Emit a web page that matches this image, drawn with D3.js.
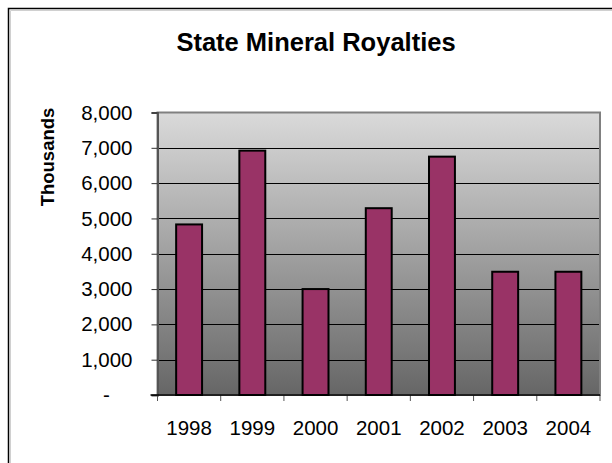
<!DOCTYPE html>
<html><head><meta charset="utf-8">
<script src="https://cdn.jsdelivr.net/npm/d3@7"></script>
<style>body{margin:0;background:#fff;overflow:hidden}svg{display:block;font-family:"Liberation Sans",Arial,sans-serif}</style>
</head><body>
<svg id="c" width="612" height="463"></svg>
<script>
const years = ["1998","1999","2000","2001","2002","2003","2004"];
const royalties = [4830, 6920, 3000, 5290, 6750, 3490, 3490];
const yTicks = [0,1000,2000,3000,4000,5000,6000,7000,8000];
const title = "State Mineral Royalties";
const yTitle = "Thousands";

const svg = d3.select("#c");
const m = {l:157.5, r:600, t:112.5, b:395};
// outer border (only left and top visible in frame)
svg.append("path").attr("d","M8.5,463V8.5H612").attr("fill","none").attr("stroke","#000").attr("stroke-width",1.5);
svg.append("path").attr("d","M10.5,463V10.5H612").attr("fill","none").attr("stroke","#d0d0d0").attr("stroke-width",1);

const x = d3.scaleBand().domain(years).range([m.l, m.r]).paddingInner(0.59).paddingOuter(0.295);
const y = d3.scaleLinear().domain([0,8000]).range([m.b, m.t]);

const defs = svg.append("defs");
const g = defs.append("linearGradient").attr("id","bg").attr("x1",0).attr("y1",0).attr("x2",0).attr("y2",1);
g.append("stop").attr("offset","0%").attr("stop-color","#dadada");
g.append("stop").attr("offset","100%").attr("stop-color","#666666");

svg.append("rect").attr("x",m.l).attr("y",m.t).attr("width",m.r-m.l).attr("height",m.b-m.t)
  .attr("fill","url(#bg)");

// gridlines
svg.append("g").selectAll("line").data(yTicks.filter(d=>d>0 && d<8000)).join("line")
  .attr("x1",m.l).attr("x2",m.r).attr("y1",d=>Math.round(y(d))+0.5).attr("y2",d=>Math.round(y(d))+0.5)
  .attr("stroke","#000").attr("stroke-width",1);

// plot border
svg.append("rect").attr("x",m.l).attr("y",m.t).attr("width",m.r-m.l).attr("height",m.b-m.t)
  .attr("fill","none").attr("stroke","#808080").attr("stroke-width",2);

// bars
svg.append("g").selectAll("rect").data(royalties).join("rect")
  .attr("x",(d,i)=>x(years[i])).attr("width",x.bandwidth())
  .attr("y",d=>y(d)).attr("height",d=>m.b-y(d))
  .attr("fill","#993366").attr("stroke","#000").attr("stroke-width",2);

// y axis
const fmt = d3.format(",");
const ya = svg.append("g").attr("transform",`translate(${m.l},0)`)
  .call(d3.axisLeft(y).tickValues(yTicks).tickSize(6).tickPadding(19).tickFormat(d=>d===0?"-":fmt(d)));
ya.select(".domain").attr("stroke","#555").attr("stroke-width",2);
ya.selectAll(".tick line").attr("stroke","#333");
ya.selectAll(".tick text").attr("font-size",20.5).attr("fill","#000").attr("font-family","Liberation Sans, Arial, sans-serif");
ya.selectAll(".tick text").filter(d=>d===0).attr("text-anchor","middle").attr("x",-51);

// x axis
const xa = svg.append("g").attr("transform",`translate(0,${m.b})`)
  .call(d3.axisBottom(x).tickSize(0).tickPadding(25));
xa.select(".domain").remove();
xa.selectAll(".tick text").attr("font-size",20.5).attr("fill","#000").attr("font-family","Liberation Sans, Arial, sans-serif");
// x ticks at category boundaries
const bounds = years.map(v=>x(v)-x.step()*x.paddingInner()/2).concat([m.r]);
bounds[0] = m.l;
svg.append("g").selectAll("line").data(bounds).join("line")
  .attr("x1",d=>d).attr("x2",d=>d).attr("y1",m.b).attr("y2",m.b+6)
  .attr("stroke","#555").attr("stroke-width",1);
svg.append("line").attr("x1",m.l-7).attr("x2",m.r).attr("y1",m.b).attr("y2",m.b).attr("stroke","#000").attr("stroke-width",1.5);

// titles
svg.append("text").attr("x",316).attr("y",51).attr("text-anchor","middle")
  .attr("font-size",25.5).attr("font-weight","bold").text(title);
svg.append("text").attr("transform","translate(54,157) rotate(-90)").attr("text-anchor","middle")
  .attr("font-size",18.5).attr("font-weight","bold").text(yTitle);
</script>
</body></html>
